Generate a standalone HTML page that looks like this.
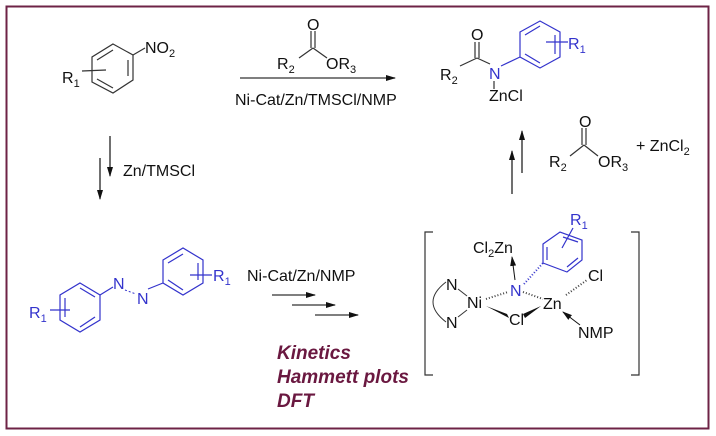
<!DOCTYPE html>
<html><head><meta charset="utf-8"><style>
html,body{margin:0;padding:0;background:#fff}
svg{display:block}
text{font-family:"Liberation Sans",Arial,sans-serif;font-size:16px;fill:#111}
.b{fill:#3333cc}
.m{font-weight:bold;font-style:italic;font-size:19px;fill:#6a1840}
</style></head><body>
<svg width="716" height="436" viewBox="0 0 716 436">
<defs>
<marker id="ah" markerWidth="10" markerHeight="6" refX="9" refY="3" orient="auto" markerUnits="userSpaceOnUse"><path d="M0,0 L10,3 L0,6 Z" fill="#111"/></marker>
</defs>
<rect x="6.5" y="6.5" width="702" height="422" fill="none" stroke="#6e2346" stroke-width="2"/>

<!-- nitrobenzene -->
<g stroke="#333" stroke-width="1.2" fill="none">
<polygon points="113,44 133,55 133,80 113,93 92,82 92,57"/>
<line x1="128" y1="60" x2="128" y2="76"/><line x1="113" y1="88" x2="97" y2="79"/><line x1="97" y1="60" x2="113" y2="50"/>
<line x1="133" y1="55" x2="145" y2="48"/>
<line x1="82" y1="71" x2="106" y2="70"/>
</g>
<text x="145" y="53">NO<tspan font-size="11" dy="4">2</tspan></text>
<text x="62" y="83">R<tspan font-size="11" dy="4">1</tspan></text>

<!-- top arrow -->
<line x1="240" y1="78" x2="395" y2="78" stroke="#333" stroke-width="1.2" marker-end="url(#ah)"/>
<g stroke="#333" stroke-width="1.2"><line x1="299" y1="58" x2="313" y2="48"/><line x1="313" y1="48" x2="327" y2="58"/><line x1="311" y1="48" x2="311" y2="31"/><line x1="315" y1="48" x2="315" y2="31"/></g>
<text x="307" y="30">O</text>
<text x="277" y="69">R<tspan font-size="11" dy="4">2</tspan></text>
<text x="326" y="69">OR<tspan font-size="11" dy="4">3</tspan></text>
<text x="235" y="105">Ni-Cat/Zn/TMSCl/NMP</text>

<!-- down arrows -->
<line x1="110" y1="136" x2="110" y2="176" stroke="#111" stroke-width="1.2" marker-end="url(#ah)"/>
<line x1="100" y1="158" x2="100" y2="199" stroke="#111" stroke-width="1.2" marker-end="url(#ah)"/>
<text x="123" y="176">Zn/TMSCl</text>

<!-- product -->
<g stroke="#333" stroke-width="1.2"><line x1="460" y1="66" x2="477" y2="58"/><line x1="477" y1="58" x2="490" y2="64"/><line x1="475" y1="58" x2="475" y2="42"/><line x1="479" y1="58" x2="479" y2="42"/><line x1="494" y1="81" x2="494" y2="89"/></g>
<text x="471" y="40">O</text>
<text x="440" y="80">R<tspan font-size="11" dy="4">2</tspan></text>
<text class="b" x="489" y="79">N</text>
<text x="489" y="101">ZnCl</text>
<g stroke="#3333cc" stroke-width="1.2" fill="none">
<polygon points="520,32 540,21 560,32 560,57 540,68 520,57"/>
<line x1="525" y1="35" x2="540" y2="26"/><line x1="555" y1="35" x2="555" y2="54"/><line x1="525" y1="54" x2="540" y2="63"/>
<line x1="501" y1="66" x2="520" y2="57"/>
<line x1="546" y1="42" x2="568" y2="42"/>
</g>
<text class="b" x="568" y="49">R<tspan font-size="11" dy="4">1</tspan></text>

<!-- up arrows -->
<line x1="522" y1="173" x2="522" y2="131" stroke="#111" stroke-width="1.2" marker-end="url(#ah)"/>
<line x1="512" y1="194" x2="512" y2="151" stroke="#111" stroke-width="1.2" marker-end="url(#ah)"/>
<g stroke="#333" stroke-width="1.2"><line x1="570" y1="156" x2="584" y2="145"/><line x1="584" y1="145" x2="598" y2="156"/><line x1="582" y1="145" x2="582" y2="128"/><line x1="586" y1="145" x2="586" y2="128"/></g>
<text x="579" y="127">O</text>
<text x="549" y="167">R<tspan font-size="11" dy="4">2</tspan></text>
<text x="598" y="167">OR<tspan font-size="11" dy="4">3</tspan></text>
<text x="636" y="151">+ ZnCl<tspan font-size="11" dy="4">2</tspan></text>

<!-- azobenzene -->
<g stroke="#3333cc" stroke-width="1.2" fill="none">
<polygon points="80,283 100,295 100,320 80,332 60,320 60,295"/>
<line x1="80" y1="288" x2="95" y2="297"/><line x1="95" y1="317" x2="80" y2="327"/><line x1="65" y1="298" x2="65" y2="317"/>
<line x1="100" y1="295" x2="113" y2="287"/>
<line x1="148" y1="289" x2="163" y2="283"/>
<polygon points="163,260 183,248 203,260 203,283 183,295 163,283"/>
<line x1="168" y1="263" x2="183" y2="254"/><line x1="198" y1="263" x2="198" y2="280"/><line x1="168" y1="280" x2="183" y2="290"/>
<line x1="190" y1="275" x2="212" y2="275"/>
<line x1="50" y1="310" x2="70" y2="310"/>
</g>
<text class="b" x="113" y="289">N</text>
<text class="b" x="137" y="304">N</text>
<g stroke="#3333cc" stroke-width="1"><line x1="125" y1="290" x2="136" y2="294" stroke-dasharray="2,2"/></g>
<text class="b" x="213" y="281">R<tspan font-size="11" dy="4">1</tspan></text>
<text class="b" x="29" y="318">R<tspan font-size="11" dy="4">1</tspan></text>

<text x="247" y="281">Ni-Cat/Zn/NMP</text>
<line x1="272" y1="295" x2="315" y2="295" stroke="#333" stroke-width="1.2" marker-end="url(#ah)"/>
<line x1="292" y1="305" x2="335" y2="305" stroke="#333" stroke-width="1.2" marker-end="url(#ah)"/>
<line x1="315" y1="315" x2="358" y2="315" stroke="#333" stroke-width="1.2" marker-end="url(#ah)"/>
<text class="m" x="277" y="359">Kinetics</text>
<text class="m" x="277" y="383">Hammett plots</text>
<text class="m" x="277" y="407">DFT</text>

<!-- brackets -->
<path d="M433,232 H425 V375 H433" fill="none" stroke="#333" stroke-width="1.2"/>
<path d="M631,232 H639 V375 H631" fill="none" stroke="#333" stroke-width="1.2"/>

<!-- intermediate -->
<text x="473" y="253">Cl<tspan font-size="11" dy="4">2</tspan><tspan dy="-4">Zn</tspan></text>
<line x1="515" y1="280" x2="512" y2="257" stroke="#111" stroke-width="1" marker-end="url(#ah)"/>
<text class="b" x="510" y="296">N</text>
<g stroke="#3333cc" stroke-width="1.2" fill="none">
<polygon points="543,244 560,232 582,240 582,260 567,272 543,263"/>
<line x1="547" y1="247" x2="547" y2="260"/><line x1="563" y1="237" x2="578" y2="242"/><line x1="567" y1="267" x2="578" y2="258"/>
<line x1="562" y1="248" x2="573" y2="228"/>
<line x1="524" y1="284" x2="543" y2="263" stroke-dasharray="1,2" stroke-width="2"/>
</g>
<text class="b" x="570" y="225">R<tspan font-size="11" dy="4">1</tspan></text>
<text x="446" y="290">N</text>
<text x="467" y="308">Ni</text>
<text x="446" y="328">N</text>
<path d="M446,282 Q420,302 446,322" fill="none" stroke="#333" stroke-width="1"/>
<g stroke="#333" stroke-width="1"><line x1="458" y1="289" x2="467" y2="296"/><line x1="458" y1="317" x2="467" y2="310"/></g>
<text x="509" y="325">Cl</text>
<text x="543" y="309">Zn</text>
<text x="588" y="281">Cl</text>
<text x="578" y="338">NMP</text>
<g stroke="#444" stroke-width="2" stroke-dasharray="1,2"><line x1="486" y1="299" x2="508" y2="292"/><line x1="523" y1="292" x2="543" y2="299"/><line x1="566" y1="295" x2="587" y2="280"/></g>
<polygon points="486,306 509,318 507,314" fill="#111"/>
<polygon points="541,306 525,318 523,314" fill="#111"/>
<line x1="580" y1="325" x2="563" y2="312" stroke="#111" stroke-width="1" marker-end="url(#ah)"/>
</svg>
</body></html>
